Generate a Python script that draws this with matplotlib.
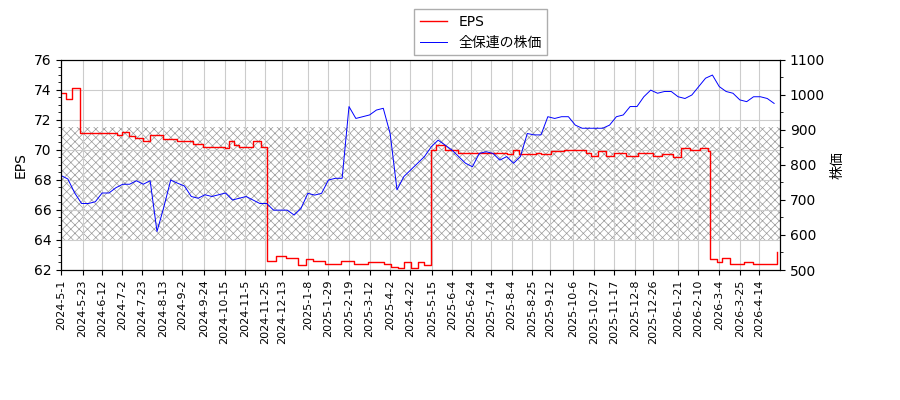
import matplotlib
matplotlib.use("Agg")
import matplotlib.pyplot as plt
from matplotlib.lines import Line2D
from matplotlib.ticker import MultipleLocator
import pandas as pd

plt.rcParams["font.family"] = ["DejaVu Sans", "Noto Sans CJK JP"]
plt.rcParams["hatch.linewidth"] = 0.5

# weekly stock price, starting 2024-05-01
price_start = "2024-05-01"
price = [770, 760, 720, 690, 690, 695, 720, 720, 735, 745, 745, 755, 745, 755, 610,
         680, 757, 748, 740, 710, 705, 715, 710, 715, 720, 700, 705, 710, 700, 690,
         690, 671, 671, 671, 657, 676, 719, 714, 719, 757, 762, 762, 967, 933, 938,
         943, 957, 962, 890, 729, 767, 786, 805, 824, 852, 871, 857, 843, 824, 805,
         795, 833, 838, 833, 814, 824, 805, 824, 890, 886, 886, 938, 933, 938, 938,
         914, 905, 905, 905, 905, 914, 938, 943, 967, 967, 995, 1014, 1005, 1010, 1010,
         995, 990, 1000, 1024, 1048, 1057, 1024, 1010, 1005, 986, 981, 995, 995, 990, 976]

# EPS step changes
eps_dates = ["2024-05-01", "2024-05-06", "2024-05-12", "2024-05-20", "2024-06-27", "2024-07-02",
             "2024-07-09", "2024-07-16", "2024-07-24", "2024-07-31", "2024-08-13", "2024-08-27",
             "2024-09-13", "2024-09-23", "2024-10-15", "2024-10-19", "2024-10-25", "2024-10-30",
             "2024-11-13", "2024-11-21", "2024-11-27", "2024-12-06", "2024-12-17", "2024-12-29",
             "2025-01-06", "2025-01-13", "2025-01-26", "2025-02-11", "2025-02-24", "2025-03-10",
             "2025-03-27", "2025-04-03", "2025-04-10", "2025-04-16", "2025-04-23", "2025-04-30",
             "2025-05-07", "2025-05-14", "2025-05-19", "2025-05-28", "2025-06-10", "2025-07-23",
             "2025-07-30", "2025-08-05", "2025-08-12", "2025-08-29", "2025-09-03", "2025-09-13",
             "2025-09-26", "2025-10-19", "2025-10-24", "2025-10-31", "2025-11-08", "2025-11-17",
             "2025-11-29", "2025-12-11", "2025-12-26", "2026-01-05", "2026-01-16", "2026-01-24",
             "2026-02-02", "2026-02-12", "2026-02-20", "2026-02-23", "2026-03-02", "2026-03-07",
             "2026-03-15", "2026-03-29", "2026-04-07", "2026-05-02"]
eps = [73.8, 73.4, 74.1, 71.1, 71.0, 71.2,
       70.9, 70.8, 70.6, 71.0, 70.7, 70.6,
       70.4, 70.2, 70.1, 70.6, 70.3, 70.2,
       70.6, 70.2, 62.6, 62.9, 62.8, 62.3,
       62.7, 62.6, 62.4, 62.6, 62.4, 62.5,
       62.4, 62.2, 62.1, 62.5, 62.1, 62.5,
       62.3, 70.0, 70.3, 70.0, 69.8, 69.8,
       69.7, 70.0, 69.7, 69.8, 69.7, 69.9,
       70.0, 69.8, 69.6, 69.9, 69.6, 69.8,
       69.6, 69.8, 69.6, 69.7, 69.5, 70.1,
       70.0, 70.1, 69.9, 62.7, 62.5, 62.8,
       62.4, 62.5, 62.4, 63.2]

tick_dates = ["2024-05-01", "2024-05-23", "2024-06-12", "2024-07-02", "2024-07-23", "2024-08-13",
              "2024-09-02", "2024-09-24", "2024-10-15", "2024-11-05", "2024-11-25", "2024-12-13",
              "2025-01-08", "2025-01-29", "2025-02-19", "2025-03-12", "2025-04-02", "2025-04-22",
              "2025-05-15", "2025-06-04", "2025-06-24", "2025-07-14", "2025-08-04", "2025-08-25",
              "2025-09-12", "2025-10-06", "2025-10-27", "2025-11-17", "2025-12-08", "2025-12-26",
              "2026-01-21", "2026-02-10", "2026-03-04", "2026-03-25", "2026-04-14"]

price_dates = pd.date_range(price_start, periods=len(price), freq="7D")
eps_dt = pd.to_datetime(eps_dates)
ticks = pd.to_datetime(tick_dates)

fig = plt.figure(figsize=(9, 4), dpi=100)
ax = fig.add_axes([61 / 900, 130 / 400, 719 / 900, 210 / 400])
ax2 = ax.twinx()

ax.axhspan(64, 71.5, facecolor="none", edgecolor="#999999", hatch="xxxx", linewidth=0, zorder=0)
ax.step(eps_dt, eps, where="post", color="red", lw=1, zorder=3)
ax2.plot(price_dates, price, color="blue", lw=0.7)

ax.set_ylim(62, 76)
ax2.set_ylim(500, 1100)
ax.yaxis.set_minor_locator(MultipleLocator(0.5))
ax2.yaxis.set_minor_locator(MultipleLocator(50))

ax.set_xticks(ticks)
ax.set_xticklabels([f"{d.year}-{d.month}-{d.day}" for d in ticks], rotation=90, fontsize=8)
ax.set_xlim(pd.Timestamp("2024-05-01"), pd.Timestamp("2026-05-05"))
ax.grid(True, color="#cccccc", lw=0.8)
ax.set_axisbelow(True)

ax.set_ylabel("EPS")
ax2.set_ylabel("株価")

handles = [Line2D([], [], color="red", lw=1), Line2D([], [], color="blue", lw=0.7)]
fig.legend(handles, ["EPS", "全保連の株価"], loc="upper center",
           bbox_to_anchor=(0.534, 0.995), fancybox=False, edgecolor="#999999")

fig.savefig("out.png")
